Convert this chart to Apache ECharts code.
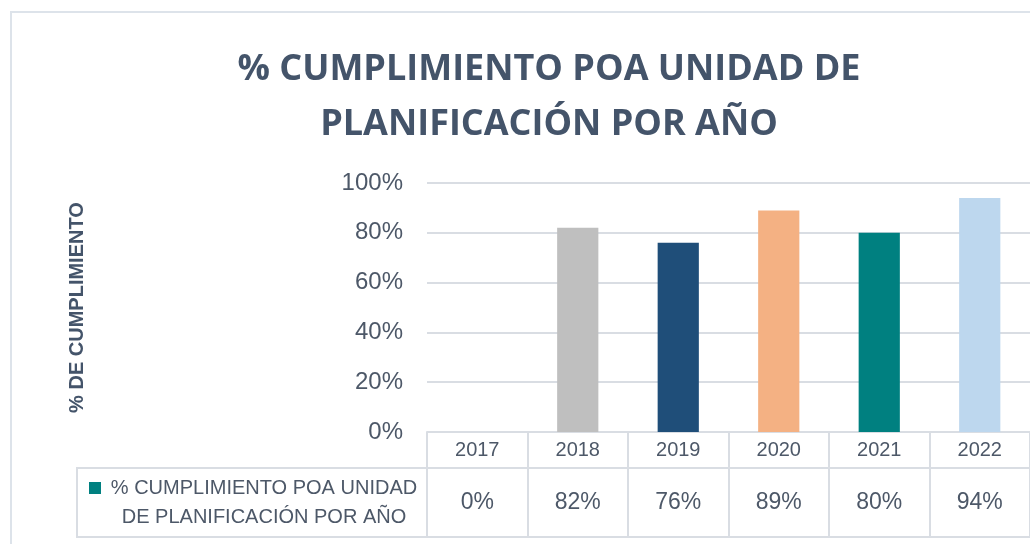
<!DOCTYPE html>
<html>
<head>
<meta charset="utf-8">
<script src="https://cdn.jsdelivr.net/npm/echarts@6/dist/echarts.min.js"></script>
<style>
  html, body { margin: 0; padding: 0; background: #fff; }
  #main { width: 1030px; height: 544px; }
</style>
</head>
<body>
<div id="main"></div>
<script>
// datos
const years = ['2017', '2018', '2019', '2020', '2021', '2022']
const cumplimiento = [0, 0.82, 0.76, 0.89, 0.80, 0.94]
const yTicks = [0, 0.2, 0.4, 0.6, 0.8, 1]
const seriesName = '% CUMPLIMIENTO POA UNIDAD DE PLANIFICACIÓN POR AÑO'
const chartTitle = '% CUMPLIMIENTO POA UNIDAD DE\nPLANIFICACIÓN POR AÑO'
const yTitle = '% DE CUMPLIMIENTO'

// colores de cada barra
const barColors = ['#4472c4', '#bfbfbf', '#1f4e79', '#f4b183', '#008080', '#bdd7ee']
const textColor = '#4d5868'
const lineColor = '#d9dde3'

const pct = v => Math.round(v * 100) + '%'

const chart = echarts.init(document.getElementById('main'))

chart.setOption({
  animation: false,
  title: {
    text: chartTitle,
    left: 544,
    top: 37,
    textAlign: 'center',
    textStyle: {
      fontFamily: 'Open Sans',
      fontWeight: 'bold',
      fontSize: 36,
      lineHeight: 55,
      color: '#44546a'
    }
  },
  grid: { left: 427, right: 0, top: 183, bottom: 112 },
  yAxis: {
    type: 'value',
    min: yTicks[0],
    max: yTicks[yTicks.length - 1],
    interval: yTicks[1] - yTicks[0],
    name: yTitle,
    nameLocation: 'middle',
    nameGap: 340,
    nameRotate: 90,
    nameTextStyle: {
      fontFamily: 'Liberation Sans',
      fontWeight: 'bold',
      fontSize: 20,
      color: '#44546a'
    },
    axisLine: { show: false },
    axisTick: { show: false },
    axisLabel: {
      formatter: pct,
      margin: 24,
      fontFamily: 'Liberation Sans',
      fontSize: 24,
      color: textColor
    },
    splitLine: { lineStyle: { color: lineColor, width: 2 } }
  },
  xAxis: [
    {
      type: 'category',
      data: years,
      axisLine: { lineStyle: { color: lineColor, width: 2 } },
      axisTick: { show: true, length: 36, lineStyle: { color: lineColor, width: 2 } },
      axisLabel: {
        margin: 8,
        fontFamily: 'Liberation Sans',
        fontSize: 20,
        color: textColor
      }
    },
    {
      type: 'category',
      data: cumplimiento.map(pct),
      position: 'bottom',
      offset: 36,
      axisLine: { lineStyle: { color: lineColor, width: 2 } },
      axisTick: { show: true, length: 69, lineStyle: { color: lineColor, width: 2 } },
      axisLabel: {
        margin: 23,
        fontFamily: 'Liberation Sans',
        fontSize: 23,
        color: textColor
      }
    }
  ],
  series: [
    {
      name: seriesName,
      type: 'bar',
      xAxisIndex: 0,
      barWidth: '41%',
      data: cumplimiento.map((v, i) => ({ value: v, itemStyle: { color: barColors[i] } }))
    }
  ],
  graphic: [
    // marco del área del gráfico
    {
      type: 'rect',
      shape: { x: 11, y: 12, width: 1040, height: 560 },
      style: { fill: 'none', stroke: '#dde3ea', lineWidth: 2 },
      silent: true
    },
    // celda del encabezado de fila de la tabla de datos
    {
      type: 'rect',
      shape: { x: 77, y: 468, width: 350, height: 69 },
      style: { fill: 'none', stroke: lineColor, lineWidth: 2 },
      silent: true
    },
    {
      type: 'line',
      shape: { x1: 427, y1: 537, x2: 1030, y2: 537 },
      style: { stroke: lineColor, lineWidth: 2 },
      silent: true
    },
    {
      type: 'rect',
      shape: { x: 89, y: 482, width: 12, height: 12 },
      style: { fill: barColors[4] },
      silent: true
    },
    {
      type: 'text',
      x: 264,
      y: 503,
      style: {
        text: '% CUMPLIMIENTO POA UNIDAD\nDE PLANIFICACIÓN POR AÑO',
        fontFamily: 'Liberation Sans',
        fontSize: 20,
        lineHeight: 29,
        fill: textColor,
        align: 'center',
        verticalAlign: 'middle'
      },
      silent: true
    }
  ]
})
</script>
</body>
</html>
